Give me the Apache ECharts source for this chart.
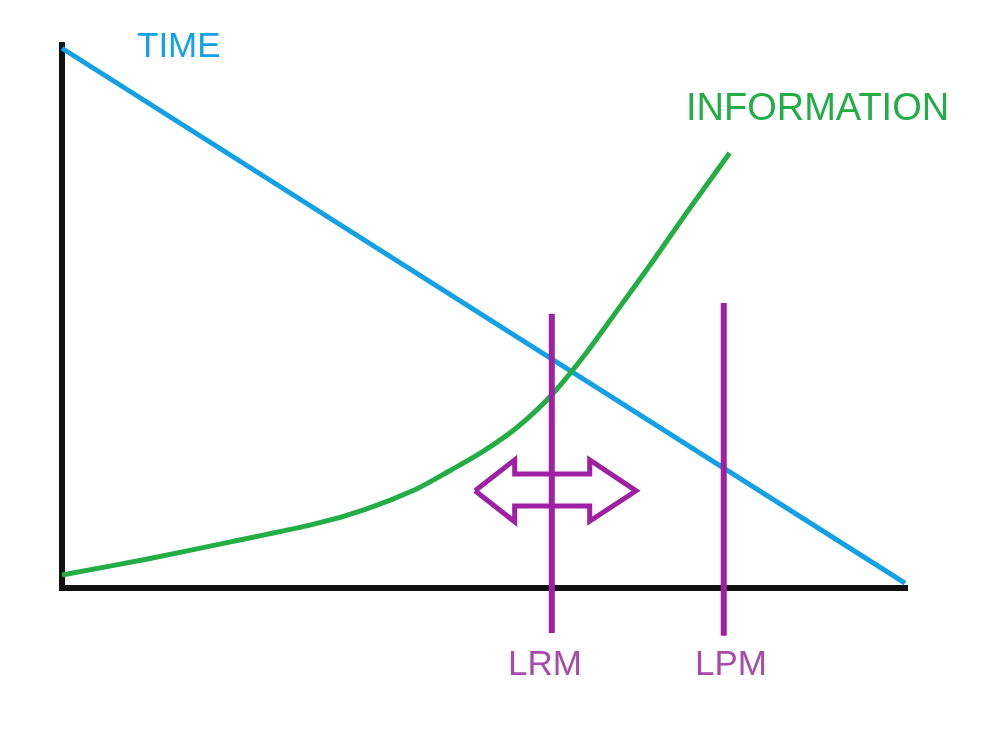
<!DOCTYPE html>
<html>
<head>
<meta charset="utf-8">
<style>
html,body{margin:0;padding:0;background:#fff;}
#chart{width:1000px;height:741px;}
</style>
<script src="https://cdn.jsdelivr.net/npm/echarts@6/dist/echarts.min.js"></script>
</head>
<body>
<div id="chart"></div>
<script>
// ---- data (x: 0..100 across the axis, y: 0..100 up the axis) ----
const timeX = [0, 100];
const timeY = [99.4, 0.9];

const infoX = [0, 10, 20, 30, 36, 42, 46, 50, 54, 58, 62, 66, 70, 74, 79.2];
const infoY = [2.4, 5.3, 8.5, 11.8, 14.5, 18.2, 21.6, 25.2, 29.6, 35.4, 42.9, 51.4, 60.0, 68.9, 80.1];

const markerNames = ['LRM', 'LPM'];
const markerX = [58.1, 78.5];
const markerTop = [50.5, 52.5];
const markerBottom = [-8.3, -8.8];

// double-headed arrow outline (data coordinates)
const arrowX = [49.0, 53.7, 53.7, 62.6, 62.6, 68.1, 62.6, 62.6, 53.7, 53.7, 49.0];
const arrowY = [17.9, 23.6, 21.0, 21.0, 23.6, 17.9, 12.3, 15.1, 15.1, 12.2, 17.9];

const titleTime = 'TIME';
const titleInfo = 'INFORMATION';

// ---- styles ----
const BLUE = '#12a0e6';
const GREEN = '#22ad45';
const PURPLE = '#a020a4';
const PURPLE_TEXT = '#a84aac';

const zip = (xs, ys) => xs.map((x, i) => [x, ys[i]]);

const series = [
  {
    type: 'line', name: 'TIME', data: zip(timeX, timeY),
    showSymbol: false, lineStyle: { color: BLUE, width: 5 }, z: 3
  },
  {
    type: 'line', name: 'INFORMATION', data: zip(infoX, infoY), smooth: 0.3,
    showSymbol: false, lineStyle: { color: GREEN, width: 5 }, z: 3
  },
  {
    type: 'line', name: 'arrow', data: zip(arrowX, arrowY),
    showSymbol: false, lineStyle: { color: PURPLE, width: 5, join: 'miter' }, z: 4, clip: false
  }
];
markerNames.forEach((n, i) => {
  series.push({
    type: 'line', name: n,
    data: [[markerX[i], markerTop[i]], [markerX[i], markerBottom[i]]],
    showSymbol: false, clip: false,
    lineStyle: { color: PURPLE, width: 6, cap: 'butt' }, z: 5
  });
});

const chart = echarts.init(document.getElementById('chart'), null, { renderer: 'canvas' });
chart.setOption({
  animation: false,
  backgroundColor: '#ffffff',
  grid: { left: 62, right: 95, top: 45, bottom: 153, containLabel: false },
  xAxis: {
    type: 'value', min: 0, max: 100,
    axisLine: { show: true, onZero: false, lineStyle: { color: '#111', width: 6, cap: 'square' } },
    axisTick: { show: false }, axisLabel: { show: false }, splitLine: { show: false }
  },
  yAxis: {
    type: 'value', min: 0, max: 100,
    axisLine: { show: true, onZero: false, lineStyle: { color: '#111', width: 6, cap: 'square' } },
    axisTick: { show: false }, axisLabel: { show: false }, splitLine: { show: false }
  },
  graphic: [
    { type: 'text', left: 137, top: 30, style: { text: titleTime, fill: BLUE, font: '35px "Liberation Sans", Arial, sans-serif' } },
    { type: 'text', left: 686, top: 91, style: { text: titleInfo, fill: GREEN, font: '38px "Liberation Sans", Arial, sans-serif' } },
    { type: 'text', left: 508, top: 648, style: { text: markerNames[0], fill: PURPLE_TEXT, font: '35px "Liberation Sans", Arial, sans-serif' } },
    { type: 'text', left: 695, top: 648, style: { text: markerNames[1], fill: PURPLE_TEXT, font: '35px "Liberation Sans", Arial, sans-serif' } }
  ],
  series: series
});
</script>
</body>
</html>
